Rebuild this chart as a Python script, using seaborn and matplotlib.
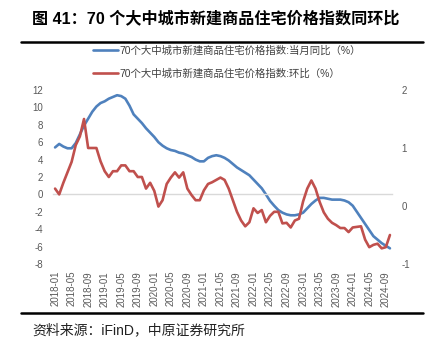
import matplotlib
matplotlib.use('Agg')
import matplotlib.pyplot as plt
from matplotlib.lines import Line2D
import numpy as np
import pandas as pd
import seaborn as sns

months = pd.period_range('2018-01', '2024-10', freq='M').strftime('%Y-%m').tolist()

# 当月同比 (%), left axis
yoy = [5.4, 5.8, 5.5, 5.3, 5.3, 5.9, 6.9, 7.9, 8.7, 9.5,
       10.1, 10.5, 10.7, 11.0, 11.2, 11.4, 11.3, 11.0, 10.2, 9.2,
       8.7, 8.2, 7.6, 7.1, 6.6, 6.0, 5.6, 5.3, 5.1, 5.0,
       4.8, 4.7, 4.5, 4.3, 4.0, 3.8, 3.8, 4.2, 4.4, 4.5,
       4.4, 4.2, 3.9, 3.5, 3.1, 2.8, 2.5, 2.2, 1.7, 1.2,
       0.7, 0.0, -0.75, -1.3, -1.8, -2.1, -2.3, -2.4, -2.4, -2.3,
       -2.1, -1.6, -1.1, -0.7, -0.4, -0.4, -0.5, -0.6, -0.6, -0.6,
       -0.7, -0.9, -1.3, -2.0, -2.7, -3.4, -4.1, -4.8, -5.2, -5.6,
       -5.9, -6.2]

# 环比 (%), right axis
mom = [0.3, 0.2, 0.4, 0.58, 0.76, 1.05, 1.2, 1.5, 1.0, 1.0,
       1.0, 0.77, 0.6, 0.5, 0.6, 0.6, 0.7, 0.7, 0.6, 0.6,
       0.5, 0.5, 0.3, 0.4, 0.26, -0.01, 0.1, 0.38, 0.49, 0.58,
       0.49, 0.58, 0.3, 0.19, 0.1, 0.1, 0.27, 0.38, 0.41, 0.45,
       0.49, 0.45, 0.3, 0.1, -0.1, -0.25, -0.35, -0.28, -0.04, -0.12,
       -0.07, -0.28, -0.17, -0.1, -0.1, -0.3, -0.29, -0.37, -0.25, -0.22,
       0.08, 0.3, 0.44, 0.3, 0.07, -0.11, -0.22, -0.29, -0.33, -0.38,
       -0.38, -0.45, -0.37, -0.36, -0.35, -0.58, -0.71, -0.67, -0.65, -0.73,
       -0.71, -0.5]

label_yoy = '70个大中城市新建商品住宅价格指数:当月同比（%）'
label_mom = '70个大中城市新建商品住宅价格指数:环比（%）'

sns.set_theme(style='white')
plt.rcParams['font.family'] = ['Liberation Sans', 'Noto Sans CJK SC', 'DejaVu Sans']
plt.rcParams['axes.unicode_minus'] = False

df = pd.DataFrame({'idx': np.arange(len(months)), 'month': months, 'yoy': yoy, 'mom': mom})

blue = '#4F81BD'
red = '#C0504D'
grey = '#595959'

fig = plt.figure(figsize=(4.32, 3.5), dpi=100)
ax = fig.add_axes([53 / 432, 1 - 264 / 350, 339 / 432, 174 / 350])
sns.lineplot(data=df, x='idx', y='yoy', ax=ax, color=blue, linewidth=1.9, legend=False)
ax2 = ax.twinx()
sns.lineplot(data=df, x='idx', y='mom', ax=ax2, color=red, linewidth=1.9, legend=False)

ax.set_xlim(-0.5, len(months) - 0.5)
ax.set_ylim(-8, 12)
ax.set_yticks(range(-8, 13, 2))
ax2.set_ylim(-1, 2)
ax2.set_yticks([-1, 0, 1, 2])
ax.set_xlabel('')
ax.set_ylabel('')
ax2.set_ylabel('')

for s in ['top', 'left', 'right']:
    ax.spines[s].set_visible(False)
for s in ax2.spines.values():
    s.set_visible(False)
ax.spines['bottom'].set_position(('data', 0))
ax.spines['bottom'].set_color('#D9D9D9')
ax.spines['bottom'].set_linewidth(1.0)

tick_pos = list(range(0, len(months), 4))
ax.set_xticks(tick_pos)
ax.set_xticklabels([])
ax.set_xticks(np.arange(-0.5, len(months), 4), minor=True)
ax.tick_params(axis='x', which='major', length=0)
ax.tick_params(axis='x', which='minor', length=3, width=0.8, color='#D9D9D9', direction='out')
ax.tick_params(axis='y', length=0, pad=7, labelsize=7, colors=grey)
ax2.tick_params(axis='y', length=0, pad=7, labelsize=7, colors=grey)

sec = ax.secondary_xaxis('bottom')
sec.set_xticks(tick_pos)
sec.set_xticklabels([months[i] for i in tick_pos], rotation=90)
sec.spines['bottom'].set_visible(False)
sec.tick_params(length=0, pad=5, labelsize=7, colors=grey)

handles = [Line2D([], [], color=blue, linewidth=1.9),
           Line2D([], [], color=red, linewidth=1.9)]
fig.legend(handles, [label_yoy, label_mom], loc='upper left',
           bbox_to_anchor=(93 / 432, 1 - 45 / 350), frameon=False,
           fontsize=7.5, handlelength=2.4, handletextpad=0.15, labelspacing=1.25,
           labelcolor='#404040', borderaxespad=0, borderpad=0)

fig.text(32 / 432, 1 - 19 / 350, '图 41：70 个大中城市新建商品住宅价格指数同环比',
         fontsize=11.6, fontweight='bold', va='center', ha='left', color='black')
fig.add_artist(Line2D([21 / 432, 423 / 432], [1 - 42 / 350] * 2, color='black',
                      linewidth=1.8, transform=fig.transFigure))
fig.add_artist(Line2D([21 / 432, 423 / 432], [1 - 313 / 350] * 2, color='black',
                      linewidth=1.8, transform=fig.transFigure))
fig.text(32 / 432, 1 - 330 / 350, '资料来源：iFinD，中原证券研究所',
         fontsize=10, va='center', ha='left', color='#222222')

fig.savefig('out.png', dpi=100)
